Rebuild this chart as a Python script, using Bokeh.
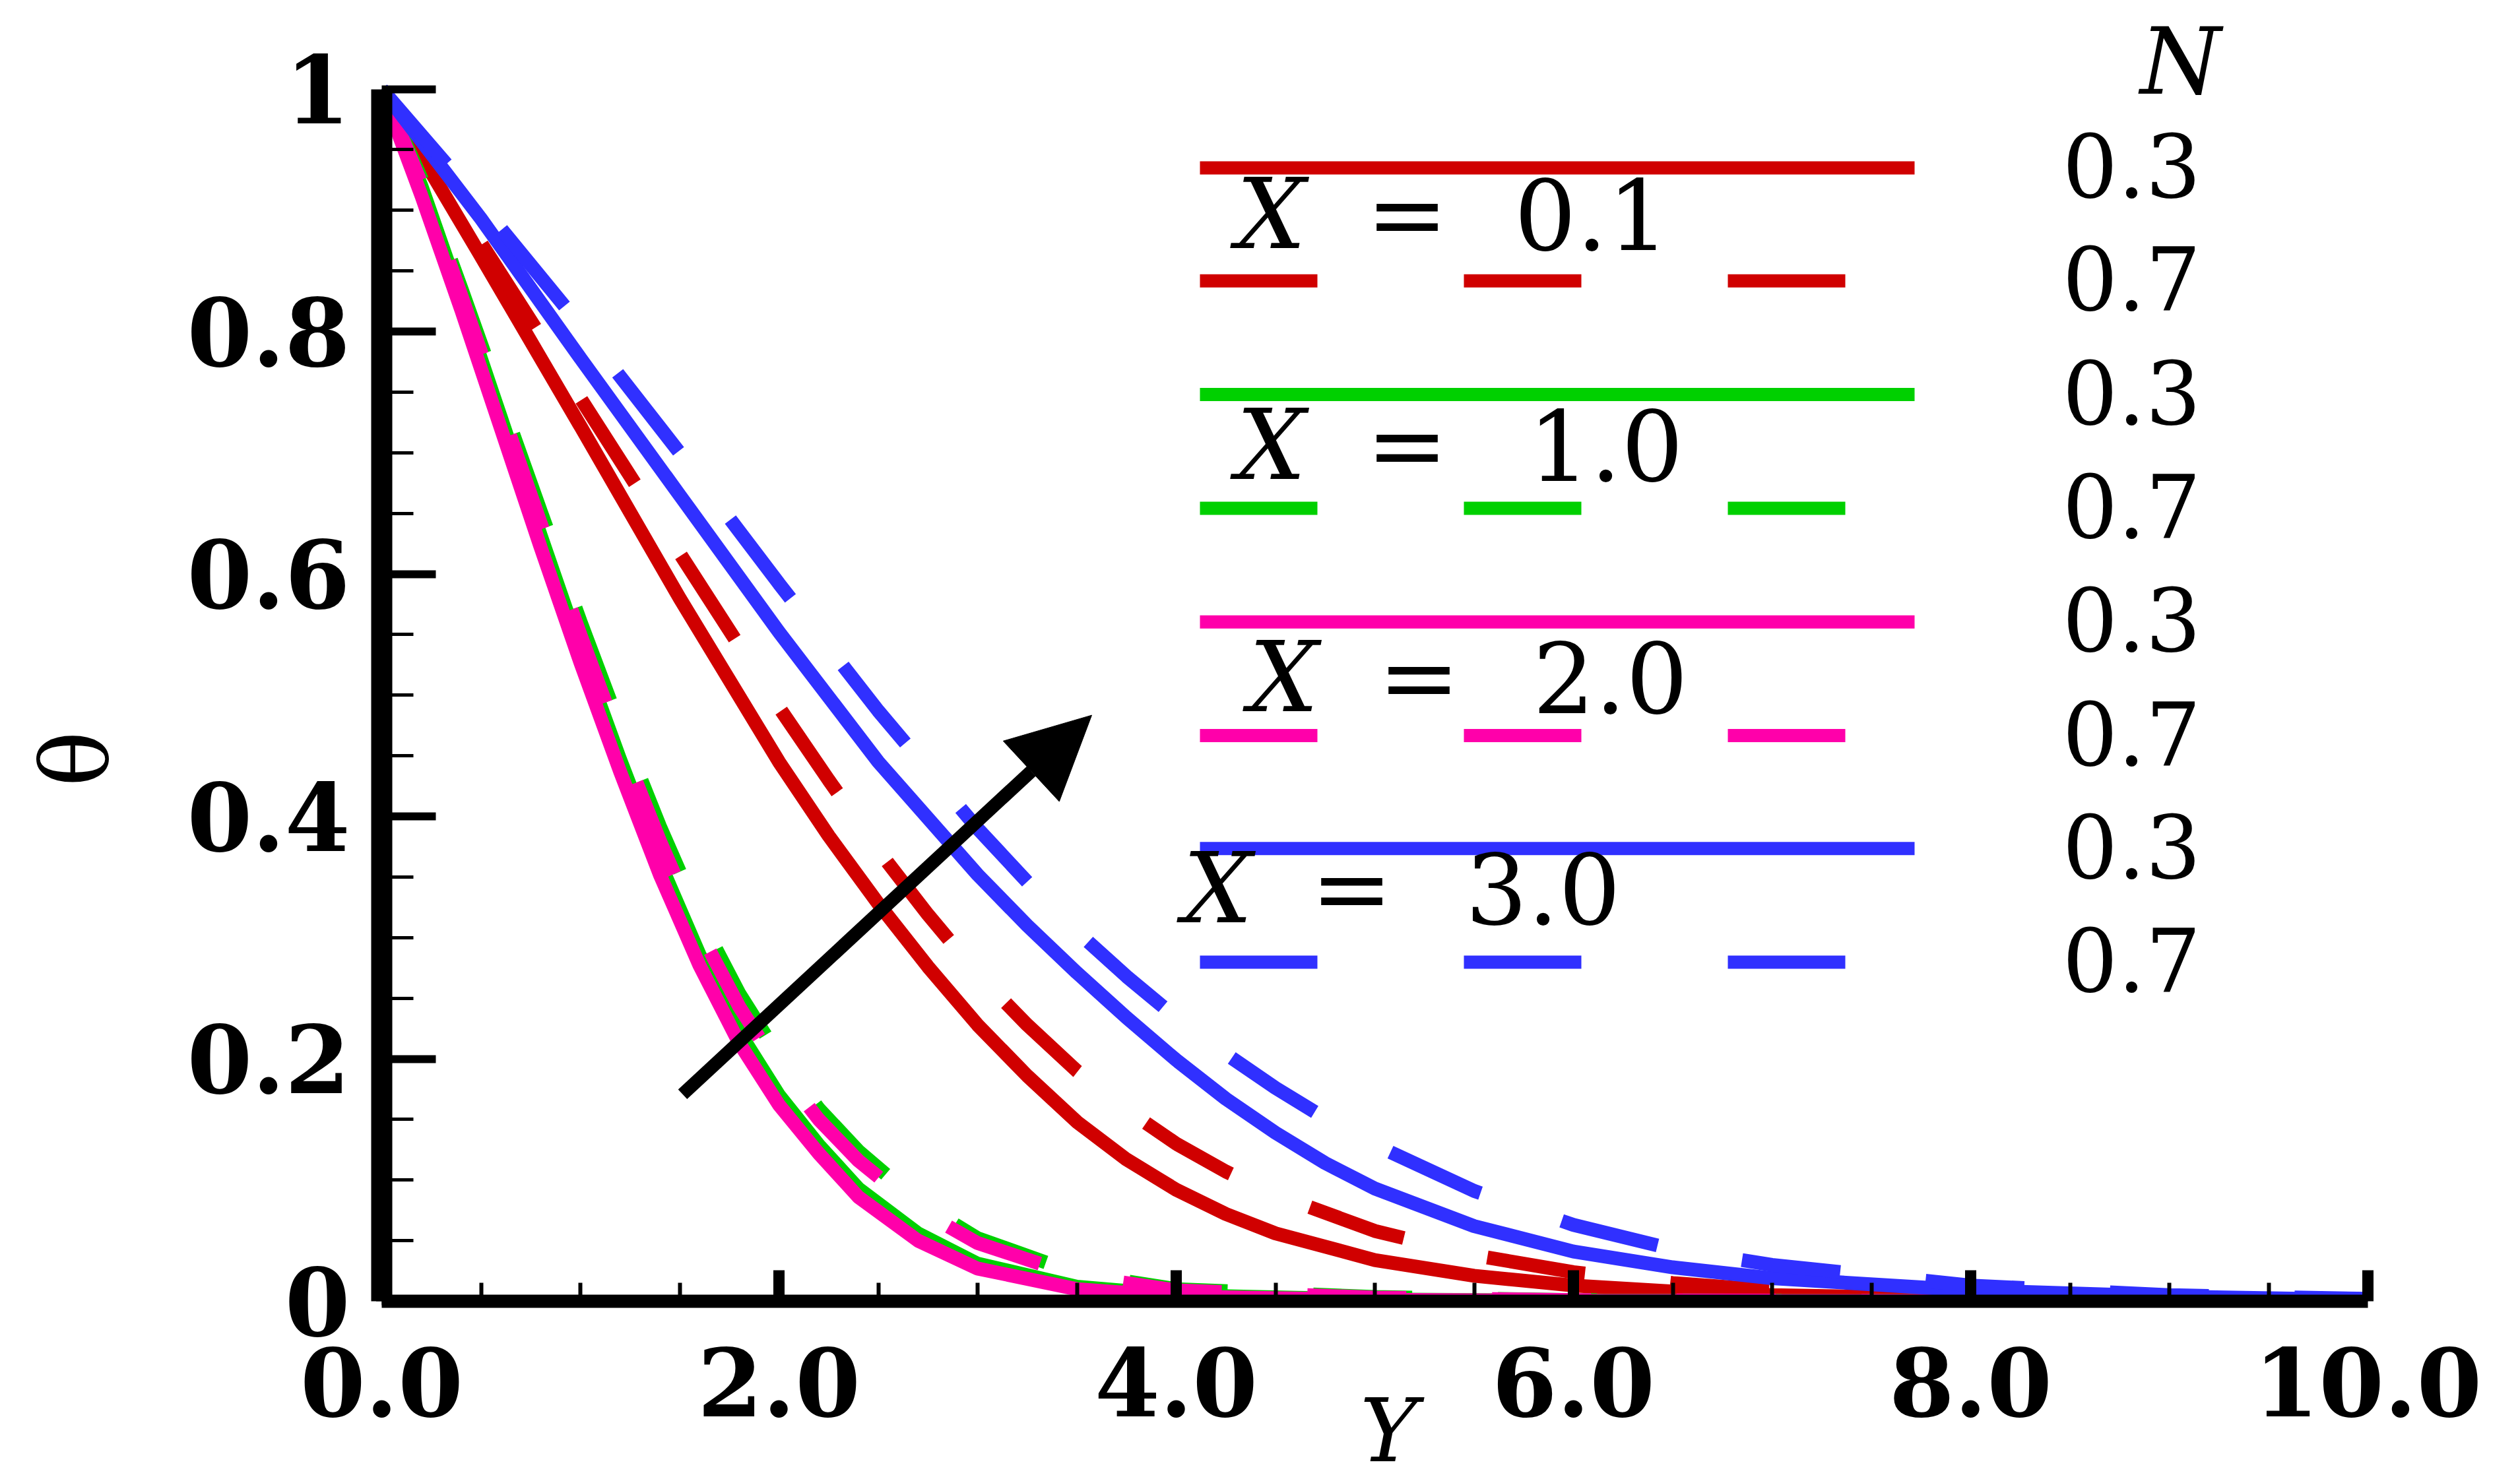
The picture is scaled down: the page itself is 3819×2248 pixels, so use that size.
import numpy as np
from bokeh.plotting import figure
from bokeh.models import Range1d, FixedTicker, Label, Arrow, NormalHead
from bokeh.embed import file_html
from bokeh.resources import INLINE

# ---------------- data ----------------
# X = 0.1 (red)
Y_red = [0, 0.5, 1.0, 1.5, 2.0, 2.25, 2.5, 2.75, 3.0, 3.25, 3.5, 3.75, 4.0, 4.25, 4.5,
         5.0, 5.5, 6.0, 6.5, 7.0, 8.0, 9.0, 10.0]
theta_red_N03 = [1.0, 0.862, 0.722, 0.58, 0.445, 0.384, 0.328, 0.276, 0.228, 0.186, 0.148, 0.117,
                 0.092, 0.072, 0.056, 0.034, 0.021, 0.013, 0.008, 0.005, 0.002, 0.0005, 0.0]
theta_red_N07 = [1.0, 0.873, 0.745, 0.617, 0.49, 0.43, 0.372, 0.319, 0.27, 0.228, 0.19, 0.158,
                 0.13, 0.107, 0.088, 0.058, 0.038, 0.024, 0.015, 0.009, 0.003, 0.001, 0.0]

# X = 3.0 (blue)
Y_blue = [0, 0.5, 1.0, 1.5, 2.0, 2.5, 3.0, 3.25, 3.5, 3.75, 4.0, 4.25, 4.5, 4.75, 5.0,
          5.5, 6.0, 6.5, 7.0, 8.0, 9.0, 10.0]
theta_blue_N03 = [1.0, 0.893, 0.778, 0.665, 0.552, 0.445, 0.352, 0.31, 0.271, 0.234, 0.199, 0.167,
                  0.139, 0.114, 0.093, 0.062, 0.041, 0.028, 0.019, 0.009, 0.004, 0.001]
theta_blue_N07 = [1.0, 0.905, 0.805, 0.70, 0.592, 0.487, 0.39, 0.346, 0.305, 0.268, 0.234, 0.204,
                  0.176, 0.151, 0.129, 0.091, 0.063, 0.043, 0.03, 0.013, 0.005, 0.002]

# X = 1.0 (green) and X = 2.0 (magenta)
Y_fast = [0, 0.2, 0.4, 0.6, 0.8, 1.0, 1.2, 1.4, 1.6, 1.8, 2.0, 2.2, 2.4, 2.7, 3.0, 3.5, 4.0,
          5.0, 6.0, 8.0, 10.0]
theta_green_N03 = [1.0, 0.92, 0.826, 0.729, 0.632, 0.537, 0.447, 0.362, 0.286, 0.222, 0.170, 0.129,
                   0.093, 0.056, 0.031, 0.012, 0.005, 0.0015, 0.0005, 0.0, 0.0]
theta_green_N07 = [1.0, 0.926, 0.836, 0.744, 0.652, 0.561, 0.474, 0.392, 0.317, 0.254, 0.202, 0.159,
                   0.124, 0.082, 0.052, 0.023, 0.01, 0.0035, 0.001, 0.0, 0.0]
theta_mag_N03 = [1.0, 0.912, 0.818, 0.72, 0.622, 0.527, 0.437, 0.352, 0.277, 0.213, 0.162, 0.122,
                 0.086, 0.05, 0.027, 0.01, 0.004, 0.0012, 0.0004, 0.0, 0.0]
theta_mag_N07 = [1.0, 0.922, 0.83, 0.736, 0.642, 0.55, 0.462, 0.38, 0.305, 0.243, 0.192, 0.15,
                 0.116, 0.076, 0.048, 0.021, 0.009, 0.003, 0.001, 0.0, 0.0]

series_X = ["0.1", "1.0", "2.0", "3.0"]
series_N = ["0.3", "0.7"]
colors = ["#d00000", "#00d000", "#ff00aa", "#3030ff"]

x_ticks = [0, 2, 4, 6, 8, 10]
x_tick_labels = ["0.0", "2.0", "4.0", "6.0", "8.0", "10.0"]
y_ticks = [0, 0.2, 0.4, 0.6, 0.8, 1.0]
y_tick_labels = ["0", "0.2", "0.4", "0.6", "0.8", "1"]

# ---------------- layout helpers (page pixel -> data) ----------------
PX0, PX_PER_X = 578.0, 301.0
PY0, PY_PER_Y = 1980.0, 1845.0
W, H = 3819, 2248
FRAME_TOP = 16            # frame reaches above y=1 so the "N" header fits inside it
FRAME_RIGHT = 3588


def dx(px):
    return (px - PX0) / PX_PER_X


def dy(py):
    return (PY0 - py) / PY_PER_Y


NBSP = "\u00a0"

p = figure(width=W, height=H, title=None,
           x_range=Range1d(0, 10), y_range=Range1d(0, dy(FRAME_TOP)),
           output_backend="svg", toolbar_location=None,
           min_border_left=int(PX0), min_border_right=int(W - FRAME_RIGHT),
           min_border_top=FRAME_TOP, min_border_bottom=int(H - PY0))
p.outline_line_color = None
p.grid.visible = False
p.background_fill_color = "white"
p.border_fill_color = "white"

TICK_FONT = "DejaVu Serif"

# x axis
xa = p.xaxis[0]
xa.ticker = FixedTicker(ticks=x_ticks,
                        minor_ticks=[v for v in np.arange(0, 10.01, 0.5) if v not in x_ticks])
xa.major_label_overrides = {t: l for t, l in zip(x_ticks, x_tick_labels)}
xa.axis_line_width = 20
xa.axis_line_color = "black"
xa.major_tick_in = 47
xa.major_tick_out = 0
xa.major_tick_line_width = 17
xa.minor_tick_in = 28
xa.minor_tick_out = 0
xa.minor_tick_line_width = 6
xa.major_label_text_font = TICK_FONT
xa.major_label_text_font_style = "bold"
xa.major_label_text_font_size = "142px"
xa.major_label_text_color = "black"
xa.major_label_standoff = 70
xa.axis_label = NBSP + "Y"
xa.axis_label_text_font = "DejaVu Serif"
xa.axis_label_text_font_style = "italic"
xa.axis_label_text_font_size = "132px"
xa.axis_label_text_color = "black"
xa.axis_label_standoff = -58

# y axis
ya = p.yaxis[0]
ya.bounds = (0, 1)
ya.ticker = FixedTicker(ticks=y_ticks,
                        minor_ticks=[round(v, 2) for v in np.arange(0, 1.001, 0.05) if round(v, 2) not in y_ticks])
ya.major_label_overrides = {t: l for t, l in zip(y_ticks, y_tick_labels)}
ya.axis_line_width = 32
ya.axis_line_color = "black"
ya.major_tick_in = 82
ya.major_tick_out = 0
ya.major_tick_line_width = 12
ya.minor_tick_in = 48
ya.minor_tick_out = 0
ya.minor_tick_line_width = 5
ya.major_label_text_font = TICK_FONT
ya.major_label_text_font_style = "bold"
ya.major_label_text_font_size = "142px"
ya.major_label_text_color = "black"
ya.major_label_standoff = 48
ya.axis_label = "θ" + NBSP * 7
ya.axis_label_text_font = "DejaVu Serif"
ya.axis_label_text_font_style = "normal"
ya.axis_label_text_font_size = "140px"
ya.axis_label_text_color = "black"
ya.axis_label_standoff = 84

LW = 21
CURVE_DASH = "150 130"

curves = [
    (Y_red, theta_red_N03, colors[0], "solid"),
    (Y_red, theta_red_N07, colors[0], CURVE_DASH),
    (Y_fast, theta_green_N03, colors[1], "solid"),
    (Y_fast, theta_green_N07, colors[1], CURVE_DASH),
    (Y_fast, theta_mag_N03, colors[2], "solid"),
    (Y_fast, theta_mag_N07, colors[2], CURVE_DASH),
    (Y_blue, theta_blue_N03, colors[3], "solid"),
    (Y_blue, theta_blue_N07, colors[3], CURVE_DASH),
]
for xs, ys, c, dash in curves:
    p.line(xs, ys, line_color=c, line_width=LW, line_dash=dash)

# ---------------- custom legend ----------------
legend_rows_py = [(255, 427), (600, 773), (946, 1119), (1291, 1464)]
x_text_pos = [  # (X center, '=' center, value center, vertical centre) in page px
    (1926, 2132, 2412, 326),
    (1926, 2132, 2433, 677),
    (1945, 2150, 2440, 1031),
    (1845, 2048, 2338, 1352),
]
LEG_X0, LEG_X1, LEG_XD = 1818, 2901, 2797


def text(px, py, s, size, style="normal"):
    p.add_layout(Label(x=dx(px), y=dy(py), text=s, text_align="center",
                       text_baseline="middle", text_font="DejaVu Serif",
                       text_font_style=style, text_font_size=size, text_color="black"))


for i, (ys_, yd_) in enumerate(legend_rows_py):
    p.line([dx(LEG_X0), dx(LEG_X1)], [dy(ys_), dy(ys_)], line_color=colors[i], line_width=20)
    p.line([dx(LEG_X0), dx(LEG_XD)], [dy(yd_), dy(yd_)], line_color=colors[i], line_width=20,
           line_dash="178 222")
    text(3230, ys_ - 4, series_N[0], "132px")
    text(3230, yd_ - 4, series_N[1], "132px")
    xc, ec, vc, cy = x_text_pos[i]
    text(xc, cy, "X", "148px", "italic")
    text(ec, cy, "=", "148px")
    text(vc, cy, series_X[i], "148px")

text(3304, 93, "N", "140px", "italic")

# arrow
p.add_layout(Arrow(x_start=dx(1034), y_start=dy(1665), x_end=dx(1654), y_end=dy(1088),
                   line_color="black", line_width=20,
                   end=NormalHead(size=125, fill_color="black", line_color="black")))

open("out.html", "w").write(file_html(p, INLINE))
